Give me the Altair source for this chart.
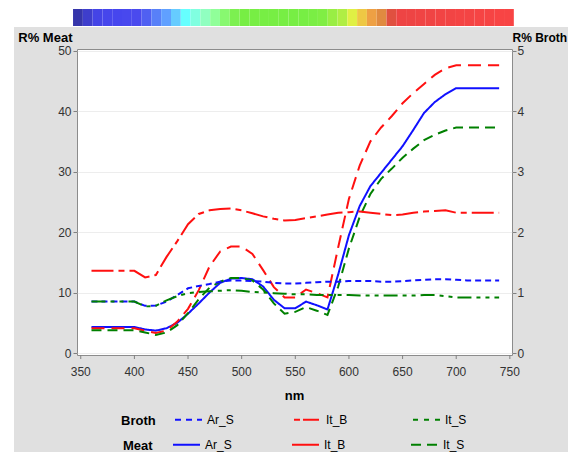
import altair as alt
import numpy as np
import pandas as pd

# ---------------- data ----------------
wavelengths = [360, 370, 380, 390, 400, 410, 420, 430, 440, 450, 460, 470, 480,
               490, 500, 510, 520, 530, 540, 550, 560, 570, 580, 590, 600, 610,
               620, 630, 640, 650, 660, 670, 680, 690, 700, 710, 720, 730, 740]

# Meat reflectance (left axis, %)
meat_ar_s = [4.3, 4.3, 4.3, 4.3, 4.3, 3.9, 3.7, 4.1, 5.0, 6.5, 8.2, 10.0, 11.6,
             12.3, 12.4, 12.2, 11.0, 8.8, 7.4, 7.4, 8.5, 7.9, 7.2, 13.0, 19.5, 24.3,
             27.6, 29.8, 32.0, 34.2, 36.9, 39.7, 41.5, 42.8, 43.8, 43.8, 43.8, 43.8, 43.8]
meat_it_b = [4.1, 4.1, 4.1, 4.1, 4.1, 3.7, 3.3, 3.7, 5.2, 7.3, 10.4, 14.3, 16.8,
             17.6, 17.6, 16.4, 13.7, 10.9, 9.2, 9.2, 10.5, 9.9, 9.2, 17.5, 25.5, 31.0,
             35.0, 37.3, 39.2, 41.3, 43.0, 44.5, 46.0, 47.1, 47.6, 47.6, 47.6, 47.6, 47.6]
meat_it_s = [3.75, 3.75, 3.75, 3.75, 3.75, 3.4, 3.0, 3.4, 4.6, 6.6, 8.9, 10.8, 11.8,
             12.4, 12.4, 12.0, 10.5, 8.2, 6.5, 6.8, 7.6, 7.0, 6.3, 11.0, 17.3, 22.5,
             26.3, 28.8, 30.5, 32.3, 33.8, 35.2, 36.1, 36.8, 37.3, 37.3, 37.3, 37.3, 37.3]

# Broth reflectance (right axis, %)
broth_ar_s = [0.85, 0.85, 0.85, 0.85, 0.85, 0.78, 0.785, 0.85, 0.96, 1.07, 1.11, 1.14, 1.18,
              1.20, 1.20, 1.19, 1.18, 1.16, 1.15, 1.15, 1.16, 1.17, 1.18, 1.18, 1.19, 1.19,
              1.19, 1.18, 1.18, 1.19, 1.20, 1.21, 1.22, 1.22, 1.21, 1.20, 1.20, 1.20, 1.20]
broth_it_b = [1.36, 1.36, 1.36, 1.36, 1.36, 1.25, 1.29, 1.59, 1.85, 2.13, 2.30, 2.36, 2.38,
              2.39, 2.36, 2.31, 2.26, 2.22, 2.19, 2.20, 2.23, 2.26, 2.29, 2.32, 2.33, 2.34,
              2.32, 2.30, 2.28, 2.29, 2.32, 2.34, 2.35, 2.36, 2.32, 2.32, 2.32, 2.32, 2.32]
broth_it_s = [0.85, 0.85, 0.85, 0.85, 0.85, 0.77, 0.78, 0.87, 0.94, 0.99, 1.01, 1.02, 1.03,
              1.04, 1.03, 1.01, 1.00, 0.99, 0.98, 0.97, 0.97, 0.96, 0.96, 0.96, 0.96, 0.95,
              0.95, 0.95, 0.95, 0.95, 0.95, 0.96, 0.96, 0.94, 0.92, 0.92, 0.92, 0.92, 0.92]

series_names = ["Ar_S", "It_B", "It_S"]
line_colors = ["#1010ff", "#ff1010", "#008000"]
# dash patterns as drawn in the plot area
meat_dashes = [[1, 0], [13, 7], [10, 6]]
broth_dashes = [[6, 4], [22, 5, 6, 5], [14, 5, 4, 5, 4, 5]]
# dash patterns as drawn in the legend samples
meat_legend_dashes = [[1, 0], [1, 0], [10, 6]]
broth_legend_dashes = [[6, 5], [6, 3, 16, 3], [5, 6]]

x_ticks = [350, 400, 450, 500, 550, 600, 650, 700, 750]
meat_ticks = [0, 10, 20, 30, 40, 50]
broth_ticks = [0, 1, 2, 3, 4, 5]
x_title = "nm"

# colour strip above the plot (visible-spectrum bar)
spectrum_colors = [
    "#3535aa", "#3e3ecc", "#4444e6", "#4646ec", "#4646ee", "#4848ee", "#4a4aee", "#5060f2", "#5880f8", "#60a0ff",
    "#66ccff", "#66ffff", "#80ffe0", "#90ffc0", "#90ff99", "#88f870", "#7cf050", "#77ee44", "#77ee44", "#77ee44",
    "#77ee44", "#77ee44", "#77ee44", "#77ee44", "#7aee44", "#80ee44", "#99ee44", "#b0ee44", "#e0f044", "#eec844",
    "#eea044", "#e08a40", "#e05040", "#ee4444", "#ee4444", "#f04444", "#f04444", "#f24444", "#f24444", "#f44444",
    "#f44444", "#f64444", "#f64444", "#f84444", "#f84444"]
spectrum_range_nm = [342.8, 753.7]

# ---------------- tables ----------------
def long_table(cols):
    frames = []
    for name, vals in zip(series_names, cols):
        frames.append(pd.DataFrame({"nm": wavelengths, "series": name, "value": vals}))
    return pd.concat(frames, ignore_index=True)

meat_df = long_table([meat_ar_s, meat_it_b, meat_it_s])
broth_df = long_table([broth_ar_s, broth_it_b, broth_it_s])
xtick_df = pd.DataFrame({"v": x_ticks, "t": [str(v) for v in x_ticks]})

edges = np.linspace(spectrum_range_nm[0], spectrum_range_nm[1], len(spectrum_colors) + 1)
spec_df = pd.DataFrame({"start": edges[:-1], "end": edges[1:], "col": spectrum_colors})

W, H = 435, 306
PAD_L, PAD_T, PAD_R, PAD_B = 69, 41, 56, 97
FONT = "Liberation Sans"
GRAY = "#e0e0e0"

x_scale = alt.Scale(domain=[346.5, 752], nice=False, zero=False)
meat_scale = alt.Scale(domain=[-0.33, 50.28], nice=False, zero=False)
broth_scale = alt.Scale(domain=[-0.033, 5.028], nice=False, zero=False)


def legend(title, lx, ly, tpad):
    return alt.Legend(title=title, orient="none", legendX=lx, legendY=ly,
                      direction="horizontal", columns=3, gridAlign="all",
                      columnPadding=56, titleOrient="left", titleAnchor="middle",
                      titleBaseline="top", titlePadding=tpad, titleFontSize=13,
                      titleFontWeight="bold", titleColor="black", labelFontSize=12,
                      labelColor="black", labelOffset=4, symbolType="stroke",
                      symbolSize=729, symbolStrokeWidth=2, symbolOpacity=1,
                      padding=0, zindex=1)

one_row = pd.DataFrame({"k": [0]})

# white page strips outside the grey panel (top and left)
top_strip = alt.Chart(one_row).mark_rect(color="white").encode(
    x=alt.value(-PAD_L), x2=alt.value(W + PAD_R), y=alt.value(-PAD_T), y2=alt.value(-22))
left_strip = alt.Chart(one_row).mark_rect(color="white").encode(
    x=alt.value(-PAD_L), x2=alt.value(-63), y=alt.value(-22), y2=alt.value(H + PAD_B))

# x axis: ticks, labels and title placed through the shared x scale
x_tick_marks = alt.Chart(xtick_df).mark_rule(color="#808080", strokeWidth=1).encode(
    x=alt.X("v:Q", scale=x_scale, axis=None), y=alt.value(H), y2=alt.value(H + 4))
x_tick_labels = alt.Chart(xtick_df).mark_text(
    font=FONT, fontSize=12, color="#333333", baseline="alphabetic", align="center").encode(
    x=alt.X("v:Q", scale=x_scale, axis=None), y=alt.value(H + 21), text="t:N")
x_label = alt.Chart(pd.DataFrame({"t": [x_title]})).mark_text(
    font=FONT, fontSize=13, fontWeight="bold", color="black", baseline="alphabetic",
    align="center").encode(x=alt.value(W / 2), y=alt.value(H + 45), text="t:N")

spectrum = alt.Chart(spec_df).mark_rect().encode(
    x=alt.X("start:Q", scale=x_scale, axis=None),
    x2="end:Q",
    y=alt.value(-40), y2=alt.value(-23),
    color=alt.Color("col:N", scale=None))

broth = alt.Chart(broth_df).mark_line(strokeWidth=2, strokeCap="butt").encode(
    x=alt.X("nm:Q", scale=x_scale, axis=None),
    y=alt.Y("value:Q", scale=broth_scale,
            axis=alt.Axis(orient="right", values=broth_ticks, title="R% Broth", titleAngle=0,
                          titleAlign="left", titleBaseline="alphabetic", titleX=0, titleY=-8,
                          grid=False, domain=False, tickColor="#808080", tickSize=4,
                          labelPadding=1, labelFontSize=12, labelColor="#333333",
                          titleFontSize=12, titleFontWeight="bold", titleColor="black")),
    color=alt.Color("series:N", scale=alt.Scale(domain=series_names, range=line_colors), legend=None),
    strokeDash=alt.StrokeDash("series:N", scale=alt.Scale(domain=series_names, range=broth_dashes),
                              legend=None),
)

meat = alt.Chart(meat_df).mark_line(strokeWidth=2, strokeCap="butt").encode(
    x=alt.X("nm:Q", scale=x_scale, axis=None),
    y=alt.Y("value:Q", scale=meat_scale,
            axis=alt.Axis(orient="left", values=meat_ticks, title="R% Meat", titleAngle=0,
                          titleAlign="right", titleBaseline="alphabetic", titleX=-5, titleY=-8,
                          grid=True, gridColor="#ededed", domain=False, tickColor="#808080",
                          tickSize=4, labelPadding=2, labelFontSize=12, labelColor="#333333",
                          titleFontSize=13, titleFontWeight="bold", titleColor="black")),
    color=alt.Color("series:N", scale=alt.Scale(domain=series_names, range=line_colors), legend=None),
    strokeDash=alt.StrokeDash("series:N", scale=alt.Scale(domain=series_names, range=meat_dashes),
                              legend=None),
)


def legend_layer(df, title, dashes, lx, ly, tpad, yscale):
    lg = legend(title, lx, ly, tpad)
    return alt.Chart(df).mark_line(opacity=0).encode(
        x=alt.X("nm:Q", scale=x_scale, axis=None),
        y=alt.Y("value:Q", scale=yscale, axis=None),
        color=alt.Color("series:N", scale=alt.Scale(domain=series_names, range=line_colors), legend=lg),
        strokeDash=alt.StrokeDash("series:N", scale=alt.Scale(domain=series_names, range=dashes), legend=lg),
    )


broth_legend = legend_layer(broth_df, "Broth", broth_legend_dashes, 44, 356, 18, broth_scale)
meat_legend = legend_layer(meat_df, "Meat", meat_legend_dashes, 46, 381, 19, meat_scale)

chart = alt.layer(meat, broth, top_strip, left_strip, spectrum, x_tick_marks, x_tick_labels,
                  x_label, broth_legend, meat_legend).resolve_scale(
    y="independent", color="independent", strokeDash="independent"
).properties(
    width=W, height=H,
    autosize=alt.AutoSizeParams(type="none"),
    padding={"left": PAD_L, "top": PAD_T, "right": PAD_R, "bottom": PAD_B},
    title=alt.TitleParams("and raw meat", font="Liberation Serif", fontSize=24,
                          fontWeight="normal", color="black", anchor="middle",
                          frame="group", offset=45),
).configure(background=GRAY).configure_view(fill="white", stroke="#8c8c8c").configure_axis(
    labelFont=FONT, titleFont=FONT).configure_legend(labelFont=FONT, titleFont=FONT)

chart.save("out.html", embed_options={"renderer": "svg", "actions": False})
